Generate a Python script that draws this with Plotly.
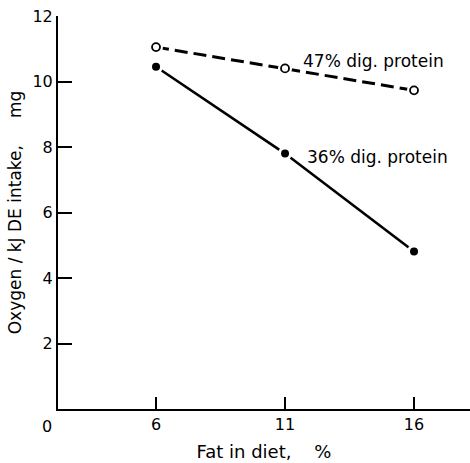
import plotly.graph_objects as go

fat = [6, 11, 16]
protein47 = [11.05, 10.4, 9.73]
protein36 = [10.45, 7.8, 4.81]
label47 = "47% dig. protein"
label36 = "36% dig. protein"
xticks = [6, 11, 16]
yticks = [2, 4, 6, 8, 10, 12]

FONT = "DejaVu Sans"
fig = go.Figure()

# lines
fig.add_trace(go.Scatter(x=fat, y=protein47, mode="lines",
                         line=dict(color="black", width=3, dash="13px,6px")))
fig.add_trace(go.Scatter(x=fat, y=protein36, mode="lines",
                         line=dict(color="black", width=2.6)))
# white halos to create gaps between markers and lines
for ys in (protein47, protein36):
    fig.add_trace(go.Scatter(x=fat, y=ys, mode="markers",
                             marker=dict(size=14, color="white", line=dict(width=0))))
# markers
fig.add_trace(go.Scatter(x=fat, y=protein47, mode="markers",
                         marker=dict(size=8, color="white", line=dict(color="black", width=1.8))))
fig.add_trace(go.Scatter(x=fat, y=protein36, mode="markers",
                         marker=dict(size=8, color="black", line=dict(color="black", width=0))))

fig.add_annotation(x=11.62, y=10.63, text=label47, showarrow=False,
                   xanchor="left", yanchor="middle", font=dict(family=FONT, size=17, color="black"))
fig.add_annotation(x=11.78, y=7.69, text=label36, showarrow=False,
                   xanchor="left", yanchor="middle", font=dict(family=FONT, size=17, color="black"))
# origin label
fig.add_annotation(x=0, y=0, xref="paper", yref="paper", text="0", showarrow=False,
                   xanchor="center", yanchor="top", xshift=-11, yshift=-6,
                   font=dict(family=FONT, size=16, color="black"))

fig.update_layout(
    width=470, height=463,
    margin=dict(l=58, r=0, t=16, b=54),
    paper_bgcolor="white", plot_bgcolor="white",
    showlegend=False,
    font=dict(family=FONT, size=16, color="black"),
    xaxis=dict(range=[2.2, 18.17], tickvals=xticks, ticktext=[str(v) for v in xticks],
               ticks="inside", ticklen=12, tickwidth=1.5, tickcolor="black", automargin=False,
               showline=True, linecolor="black", linewidth=2, showgrid=False, zeroline=False,
               title=dict(text="Fat in diet,\u00a0\u00a0\u00a0\u00a0%", font=dict(family=FONT, size=18), standoff=12)),
    yaxis=dict(range=[0, 12], tickvals=yticks, ticktext=[str(v) for v in yticks],
               ticks="inside", ticklen=14, tickwidth=1.5, tickcolor="black", automargin=False,
               showline=True, linecolor="black", linewidth=2, showgrid=False, zeroline=False,
               title=dict(text="Oxygen / kJ DE intake,\u00a0\u00a0\u00a0\u00a0\u00a0mg", font=dict(family=FONT, size=17), standoff=6)),
)

fig.write_html("out.html", config={"displayModeBar": False},
               post_script="document.body.style.margin='0px';document.body.style.overflow='hidden';")
